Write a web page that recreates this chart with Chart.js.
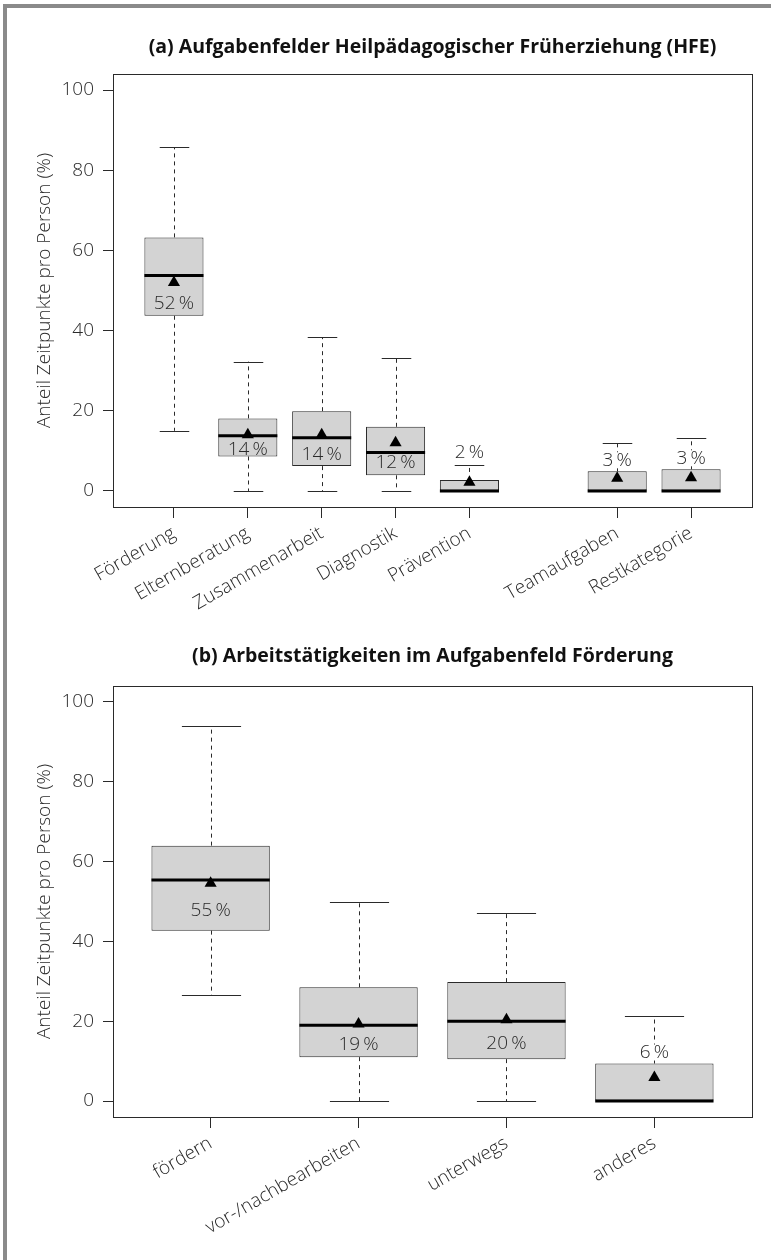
<!DOCTYPE html>
<html>
<head>
<meta charset="utf-8">
<script src="https://cdn.jsdelivr.net/npm/chart.js@4.4.0/dist/chart.umd.min.js"></script>
<style>
body { margin: 0; background: #fff; }
#wrap { position: relative; width: 771px; height: 1260px; overflow: hidden; }
#frame { position: absolute; left: 3px; top: 4px; width: 900px; height: 1400px;
         border-left: 4px solid #8a8a8a; border-top: 4px solid #8a8a8a; }
.panel { position: absolute; left: 0; width: 771px; }
</style>
</head>
<body>
<div id="wrap">
  <div id="frame"></div>
  <div class="panel" style="top:0;height:620px"><canvas id="chartA"></canvas></div>
  <div class="panel" style="top:620px;height:640px"><canvas id="chartB"></canvas></div>
</div>
<script>
// (a) Aufgabenfelder HFE
const catsA = ['Förderung', 'Elternberatung', 'Zusammenarbeit', 'Diagnostik', 'Prävention', 'Teamaufgaben', 'Restkategorie'];
const posA = [1, 2, 3, 4, 5, 7, 8];
const lowA = [15, 0, 0, 0, 0, 0, 0];
const q1A = [43.7, 8.6, 6.2, 3.9, 0, 0, 0];
const medA = [53.75, 13.8, 13.25, 9.6, 0, 0, 0];
const q3A = [63.25, 18.1, 19.9, 16, 2.75, 4.9, 5.4];
const highA = [85.7, 32.25, 38.3, 33.2, 6.5, 12, 13.25];
const meanA = [52, 14, 14, 12, 2.2, 3.2, 3.3];

// (b) Arbeitstätigkeiten Förderung
const catsB = ['fördern', 'vor-/nachbearbeiten', 'unterwegs', 'anderes'];
const posB = [1, 2, 3, 4];
const lowB = [26.6, 0, 0, 0];
const q1B = [42.7, 11, 10.5, 0];
const medB = [55.4, 19, 20, 0];
const q3B = [64, 28.5, 29.8, 9.4];
const highB = [93.9, 49.9, 47, 21.3];
const meanB = [54.6, 19.3, 20.4, 5.9];

const yTicks = [0, 20, 40, 60, 80, 100];

const FONT = "'Open Sans', 'DejaVu Sans', sans-serif";
const INK = '#2a2a2a';

//усы, медиана, подписи и рамка
const boxParts = {
    id: 'boxParts',
    beforeDatasetsDraw(chart, args, o) {
        const ctx = chart.ctx, x = chart.scales.x, y = chart.scales.y;
        const bars = chart.getDatasetMeta(1).data;
        ctx.save();
        ctx.strokeStyle = INK;
        ctx.lineWidth = 1;
        o.pos.forEach((p, i) => {
            const cx = Math.round(x.getPixelForValue(p)) + 0.5;
            const half = bars[i].width / 4;
            const pLow = y.getPixelForValue(o.low[i]);
            const pHigh = y.getPixelForValue(o.high[i]);
            const pQ1 = y.getPixelForValue(o.q1[i]);
            const pQ3 = y.getPixelForValue(o.q3[i]);
            ctx.setLineDash([4, 4]);
            ctx.beginPath();
            ctx.moveTo(cx, pQ3); ctx.lineTo(cx, pHigh);
            if (pLow > pQ1) { ctx.moveTo(cx, pQ1); ctx.lineTo(cx, pLow); }
            ctx.stroke();
            ctx.setLineDash([]);
            ctx.beginPath();
            ctx.moveTo(cx - half, Math.round(pHigh) + 0.5); ctx.lineTo(cx + half, Math.round(pHigh) + 0.5);
            ctx.moveTo(cx - half, Math.round(pLow) + 0.5); ctx.lineTo(cx + half, Math.round(pLow) + 0.5);
            ctx.stroke();
        });
        ctx.restore();
    },
    afterDatasetDraw(chart, args, o) {
        if (args.index !== 1) return;
        const ctx = chart.ctx, x = chart.scales.x, y = chart.scales.y;
        const bars = chart.getDatasetMeta(1).data;
        ctx.save();
        ctx.strokeStyle = '#000';
        ctx.lineWidth = 3;
        o.pos.forEach((p, i) => {
            const cx = x.getPixelForValue(p);
            const half = bars[i].width / 2;
            const pm = y.getPixelForValue(o.med[i]);
            ctx.beginPath();
            ctx.moveTo(cx - half, pm); ctx.lineTo(cx + half, pm);
            ctx.stroke();
        });
        ctx.restore();
    },
    afterDatasetsDraw(chart, args, o) {
        const ctx = chart.ctx, x = chart.scales.x, y = chart.scales.y;
        const a = chart.chartArea;
        ctx.save();
        ctx.font = '300 19px ' + FONT;
        ctx.textAlign = 'center';
        ctx.textBaseline = 'middle';
        o.pos.forEach((p, i) => {
            const cx = x.getPixelForValue(p);
            const pMean = y.getPixelForValue(o.mean[i]);
            const pQ1 = y.getPixelForValue(o.q1[i]);
            const pQ3 = y.getPixelForValue(o.q3[i]);
            const pHigh = y.getPixelForValue(o.high[i]);
            const txt = Math.round(o.mean[i]) + '\u2009%';
            let ly = (pMean + pQ1) / 2 + 4;
            if (o.q1[i] <= 0) {
                ly = pQ3 - 11;
                if (pHigh > pQ3 - 22) ly = pHigh - 12;
                const w = ctx.measureText(txt).width;
                ctx.fillStyle = '#fff';
                ctx.fillRect(cx - w / 2 - 1, ly - 8, w + 2, 16);
            }
            ctx.fillStyle = INK;
            ctx.fillText(txt, cx, ly);
        });
        // рамка графика
        ctx.strokeStyle = INK;
        ctx.lineWidth = 1;
        ctx.strokeRect(Math.round(a.left) + 0.5, Math.round(a.top) + 0.5,
            Math.round(a.right - a.left), Math.round(a.bottom - a.top));
        // заголовок
        ctx.font = 'bold 19.5px ' + FONT;
        ctx.fillStyle = '#111';
        ctx.fillText(o.title, (a.left + a.right) / 2, o.titleY);
        ctx.restore();
    }
};

function makeChart(id, cats, pos, low, q1, med, q3, high, mean, xMin, xMax, padTop, xHeight, title, titleY) {
    const ctx = document.getElementById(id).getContext('2d');
    return new Chart(ctx, {
        type: 'bar',
        data: {
            datasets: [{
                type: 'scatter',
                data: pos.map((p, i) => ({ x: p, y: mean[i] })),
                pointStyle: 'triangle',
                pointRadius: 7,
                pointBackgroundColor: '#000',
                pointBorderWidth: 0,
                order: 1
            }, {
                type: 'bar',
                data: pos.map((p, i) => ({ x: p, y: [q1[i], q3[i]] })),
                backgroundColor: '#d3d3d3',
                borderColor: INK,
                borderWidth: 1,
                borderSkipped: false,
                barPercentage: 0.8,
                categoryPercentage: 1,
                order: 2
            }]
        },
        options: {
            responsive: true,
            maintainAspectRatio: false,
            animation: false,
            layout: { padding: { top: padTop, right: 19, left: 0, bottom: 0 } },
            plugins: {
                legend: { display: false },
                tooltip: { enabled: false },
                boxParts: { pos, low, q1, med, q3, high, mean, title, titleY }
            },
            scales: {
                x: {
                    type: 'linear',
                    min: xMin,
                    max: xMax,
                    offset: false,
                    border: { display: false },
                    grid: { offset: false, drawOnChartArea: false, drawTicks: true, tickLength: 11, color: INK },
                    afterBuildTicks: s => { s.ticks = pos.map(v => ({ value: v })); },
                    afterFit: s => { s.height = xHeight; },
                    ticks: {
                        autoSkip: false,
                        minRotation: 30,
                        maxRotation: 30,
                        padding: 4,
                        color: INK,
                        font: { family: FONT, size: 19, weight: 300 },
                        callback: v => cats[pos.indexOf(v)]
                    }
                },
                y: {
                    min: -4,
                    max: 104,
                    border: { display: false },
                    grid: { drawOnChartArea: false, drawTicks: true, tickLength: 10, color: INK },
                    afterBuildTicks: s => { s.ticks = yTicks.map(v => ({ value: v })); },
                    afterFit: s => { s.width = 113; },
                    ticks: {
                        padding: 9,
                        color: INK,
                        font: { family: FONT, size: 19, weight: 300 }
                    },
                    title: {
                        display: true,
                        text: 'Anteil Zeitpunkte pro Person (%)',
                        color: INK,
                        font: { family: FONT, size: 19, weight: 300 },
                        padding: { top: 33, bottom: 0 }
                    }
                }
            }
        },
        plugins: [boxParts]
    });
}

makeChart('chartA', catsA, posA, lowA, q1A, medA, q3A, highA, meanA, 0.175, 8.825, 74, 113,
    '(a) Aufgabenfelder Heilpädagogischer Früherziehung (HFE)', 47);
makeChart('chartB', catsB, posB, lowB, q1B, medB, q3B, highB, meanB, 0.34, 4.66, 66, 143,
    '(b) Arbeitstätigkeiten im Aufgabenfeld Förderung', 36);
</script>
</body>
</html>
